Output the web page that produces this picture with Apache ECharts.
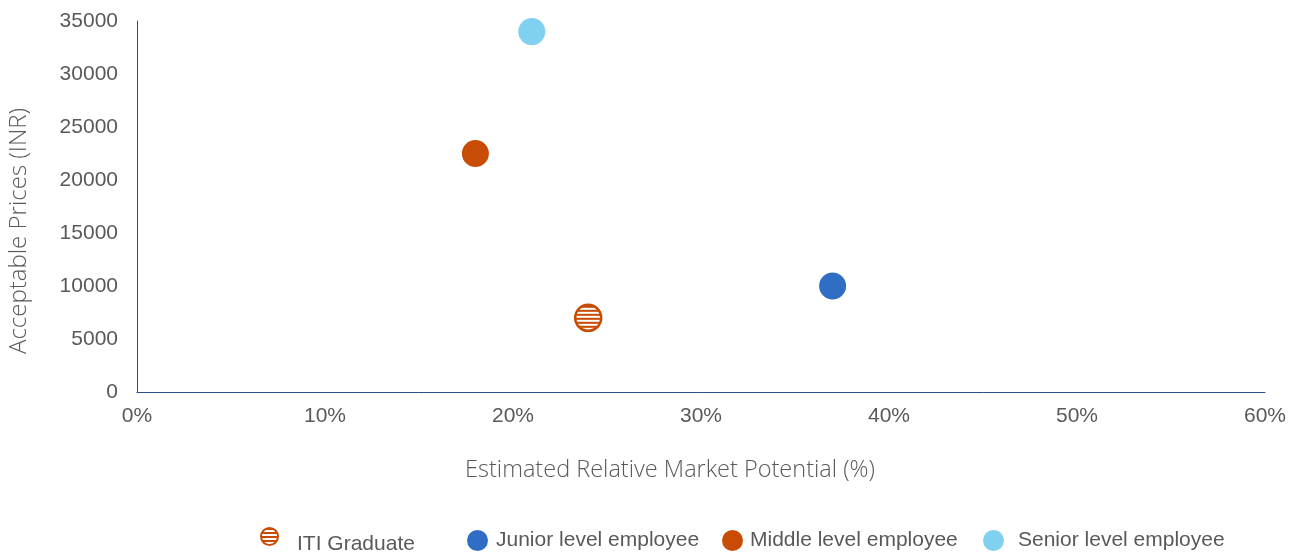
<!DOCTYPE html>
<html>
<head>
<meta charset="utf-8">
<script src="https://cdn.jsdelivr.net/npm/echarts@6/dist/echarts.min.js"></script>
<style>
  html, body { margin: 0; padding: 0; background: #ffffff; }
  #chart { width: 1301px; height: 554px; }
</style>
</head>
<body>
<div id="chart"></div>
<script>
// Respondent segments plotted by market potential vs. acceptable price
const segments = ['ITI Graduate', 'Junior level employee', 'Middle level employee', 'Senior level employee'];
const marketPotential = [24, 37, 18, 21];            // % of estimated relative market
const acceptablePrice = [7000, 10000, 22500, 34000]; // INR
const segmentColors = ['#C94C04', '#2F6EC4', '#C94C04', '#80D0EF'];

const xTicks = { min: 0, max: 60, interval: 10 };
const yTicks = { min: 0, max: 35000, interval: 5000 };

const xTitle = 'Estimated Relative Market Potential (%)';
const yTitle = 'Acceptable Prices (INR)';

// Horizontal stripe fill used for the ITI Graduate marker.
// Scatter symbols are drawn in a unit space and scaled up, so the
// scatter version of the pattern is shrunk by the same factor.
function stripePattern(color, scale) {
  const c = document.createElement('canvas');
  c.width = 4; c.height = 4;
  const ctx = c.getContext('2d');
  ctx.fillStyle = '#ffffff';
  ctx.fillRect(0, 0, 4, 4);
  ctx.fillStyle = color;
  ctx.fillRect(0, 0, 4, 2);
  return { image: c, repeat: 'repeat', scaleX: scale, scaleY: scale };
}

const markerSize = 27;
const stripedSize = 26;

const chart = echarts.init(document.getElementById('chart'), null, { renderer: 'canvas' });

const series = segments.map((name, i) => {
  const striped = i === 0;
  return {
    name: name,
    type: 'scatter',
    symbol: 'circle',
    symbolSize: striped ? stripedSize : markerSize,
    data: [[marketPotential[i], acceptablePrice[i]]],
    itemStyle: striped
      ? { color: stripePattern(segmentColors[i], 2 / stripedSize), borderColor: segmentColors[i], borderWidth: 2.5, opacity: 1 }
      : { color: segmentColors[i], opacity: 1 },
    emphasis: { disabled: true }
  };
});

const axisLineColor = '#2A5185';
const labelColor = '#595959';
const tickFont = 'Liberation Sans';

// Each legend entry is placed on its own so the spacing follows the layout;
// drop lowers the label relative to its icon.
const legendSpots = [
  { left: 260, top: 527, size: 17, pad: 14, drop: 16 },
  { left: 467, top: 530, size: 21, pad: 3, drop: 0 },
  { left: 722, top: 530, size: 21, pad: 2, drop: 0 },
  { left: 983, top: 530, size: 21, pad: 9, drop: 0 }
];

const legends = segments.map((name, i) => {
  const spot = legendSpots[i];
  const item = { name: name };
  if (i === 0) {
    item.itemStyle = { color: stripePattern(segmentColors[i], 1), borderColor: segmentColors[i], borderWidth: 2 };
  }
  return {
    data: [item],
    left: spot.left,
    top: spot.top,
    padding: 0,
    icon: 'circle',
    itemWidth: spot.size,
    itemHeight: spot.size,
    selectedMode: false,
    formatter: '{t|{name}}',
    textStyle: {
      fontFamily: tickFont, fontSize: 21, color: labelColor,
      padding: [0, 0, 0, spot.pad],
      rich: {
        t: { fontFamily: tickFont, fontSize: 21, color: labelColor, padding: [spot.drop, 0, 0, 0] }
      }
    }
  };
});

chart.setOption({
  animation: false,
  backgroundColor: '#ffffff',
  grid: { left: 137, right: 36, top: 21, bottom: 162, containLabel: false, outerBoundsMode: 'none' },
  xAxis: {
    type: 'value',
    min: xTicks.min, max: xTicks.max, interval: xTicks.interval,
    axisLine: { show: true, lineStyle: { color: axisLineColor, width: 1 } },
    axisTick: { show: false },
    splitLine: { show: false },
    axisLabel: {
      formatter: '{value}%',
      fontFamily: tickFont, fontSize: 21, color: labelColor, margin: 14
    }
  },
  yAxis: {
    type: 'value',
    min: yTicks.min, max: yTicks.max, interval: yTicks.interval,
    axisLine: { show: true, lineStyle: { color: axisLineColor, width: 1 } },
    axisTick: { show: false },
    splitLine: { show: false },
    axisLabel: {
      formatter: (v) => String(v),
      fontFamily: tickFont, fontSize: 21, color: labelColor, margin: 19
    }
  },
  graphic: [
    {
      type: 'text',
      x: 670, y: 470,
      style: {
        text: xTitle, fontFamily: 'Open Sans', fontWeight: 300, fontSize: 23.5,
        fill: labelColor, align: 'center', verticalAlign: 'middle'
      }
    },
    {
      type: 'text',
      x: 19, y: 231,
      rotation: Math.PI / 2,
      style: {
        text: yTitle, fontFamily: 'Open Sans', fontWeight: 300, fontSize: 24,
        fill: labelColor, align: 'center', verticalAlign: 'middle'
      }
    }
  ],
  legend: legends,
  series: series
});
</script>
</body>
</html>
